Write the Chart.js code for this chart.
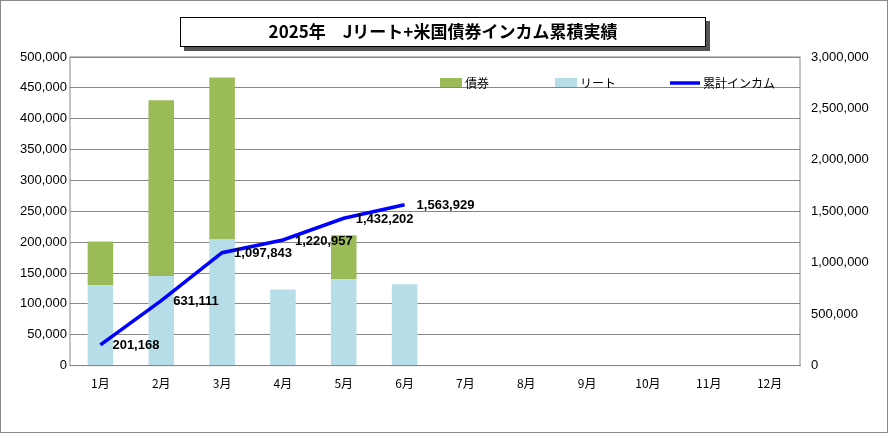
<!DOCTYPE html><html><head><meta charset="utf-8">
<script src="https://cdn.jsdelivr.net/npm/chart.js@4"></script>
<style>html,body{margin:0;padding:0;background:#fff}#w{width:889px;height:434px;position:relative}</style></head><body>
<div id="w"><canvas id="c" width="889" height="434"></canvas></div>
<script>
const months=['1月','2月','3月','4月','5月','6月','7月','8月','9月','10月','11月','12月'];
const bonds=[71168,284943,261732,null,71245,null,null,null,null,null,null,null];
const reits=[130000,145000,205000,123114,140000,131727,null,null,null,null,null,null];
const cumulative=[201168,631111,1097843,1220957,1432202,1563929,null,null,null,null,null,null];
const titleText='2025年　Jリート+米国債券インカム累積実績';
const F='"Noto Sans CJK JP","Liberation Sans",sans-serif';
const deco={id:'deco',afterDraw(ch){const c=ch.ctx,a=ch.chartArea;c.save();
c.strokeStyle='#888';c.lineWidth=1;c.strokeRect(0.5,0.5,887,432);
c.strokeStyle='#888';c.strokeRect(a.left,a.top,a.right-a.left,a.bottom-a.top);
c.fillStyle='#555';c.fillRect(184,21,526,30);c.fillStyle='#fff';c.fillRect(180,17,526,30);
c.strokeStyle='#000';c.strokeRect(180.5,17.5,525,29);
c.fillStyle='#000';c.font='bold 17px '+F;c.textAlign='center';c.textBaseline='middle';c.fillText(titleText,443,32);
c.font='12px '+F;c.textAlign='left';
c.fillStyle='#9bbb59';c.fillRect(440,78,22,9);c.fillStyle='#000';c.fillText('債券',465,83);
c.fillStyle='#b7dde8';c.fillRect(555,78,22,9);c.fillStyle='#000';c.fillText('リート',580,83);
c.strokeStyle='#0000ff';c.lineWidth=3.5;c.beginPath();c.moveTo(670,83);c.lineTo(700,83);c.stroke();c.fillStyle='#000';c.fillText('累計インカム',703,83);
const m=ch.getDatasetMeta(0);c.font='bold 13px "Liberation Sans",sans-serif';
m.data.forEach((p,i)=>{if(cumulative[i]==null)return;c.fillText(cumulative[i].toLocaleString('en-US'),p.x+12,p.y+1);});
c.restore();}};
new Chart(document.getElementById('c'),{data:{labels:months,datasets:[
{type:'line',label:'累計インカム',data:cumulative,yAxisID:'y2',borderColor:'#0000ff',borderWidth:3.5,pointRadius:0,order:0,tension:0},
{type:'bar',label:'リート',data:reits,backgroundColor:'#b7dde8',stack:'s',yAxisID:'y',categoryPercentage:1,barPercentage:0.42,order:1},
{type:'bar',label:'債券',data:bonds,backgroundColor:'#9bbb59',stack:'s',yAxisID:'y',categoryPercentage:1,barPercentage:0.42,order:1}]},
options:{responsive:false,animation:false,layout:{padding:{top:57,left:6,right:16,bottom:40}},
plugins:{legend:{display:false},tooltip:{enabled:false}},
scales:{x:{stacked:true,grid:{display:false},border:{color:'#888'},ticks:{color:'#000',font:{size:12,family:F}}},
y:{stacked:true,min:0,max:500000,afterFit(s){s.width=64;},ticks:{stepSize:50000,color:'#000',font:{size:13,family:'"Liberation Sans",sans-serif'},callback:v=>v.toLocaleString('en-US')},grid:{color:'#888',drawTicks:false},border:{display:false}},
y2:{position:'right',min:0,max:3000000,afterFit(s){s.width=73;},ticks:{stepSize:500000,color:'#000',font:{size:13,family:'"Liberation Sans",sans-serif'},callback:v=>v.toLocaleString('en-US')},grid:{display:false},border:{display:false}}}},
plugins:[deco]});
</script></body></html>
